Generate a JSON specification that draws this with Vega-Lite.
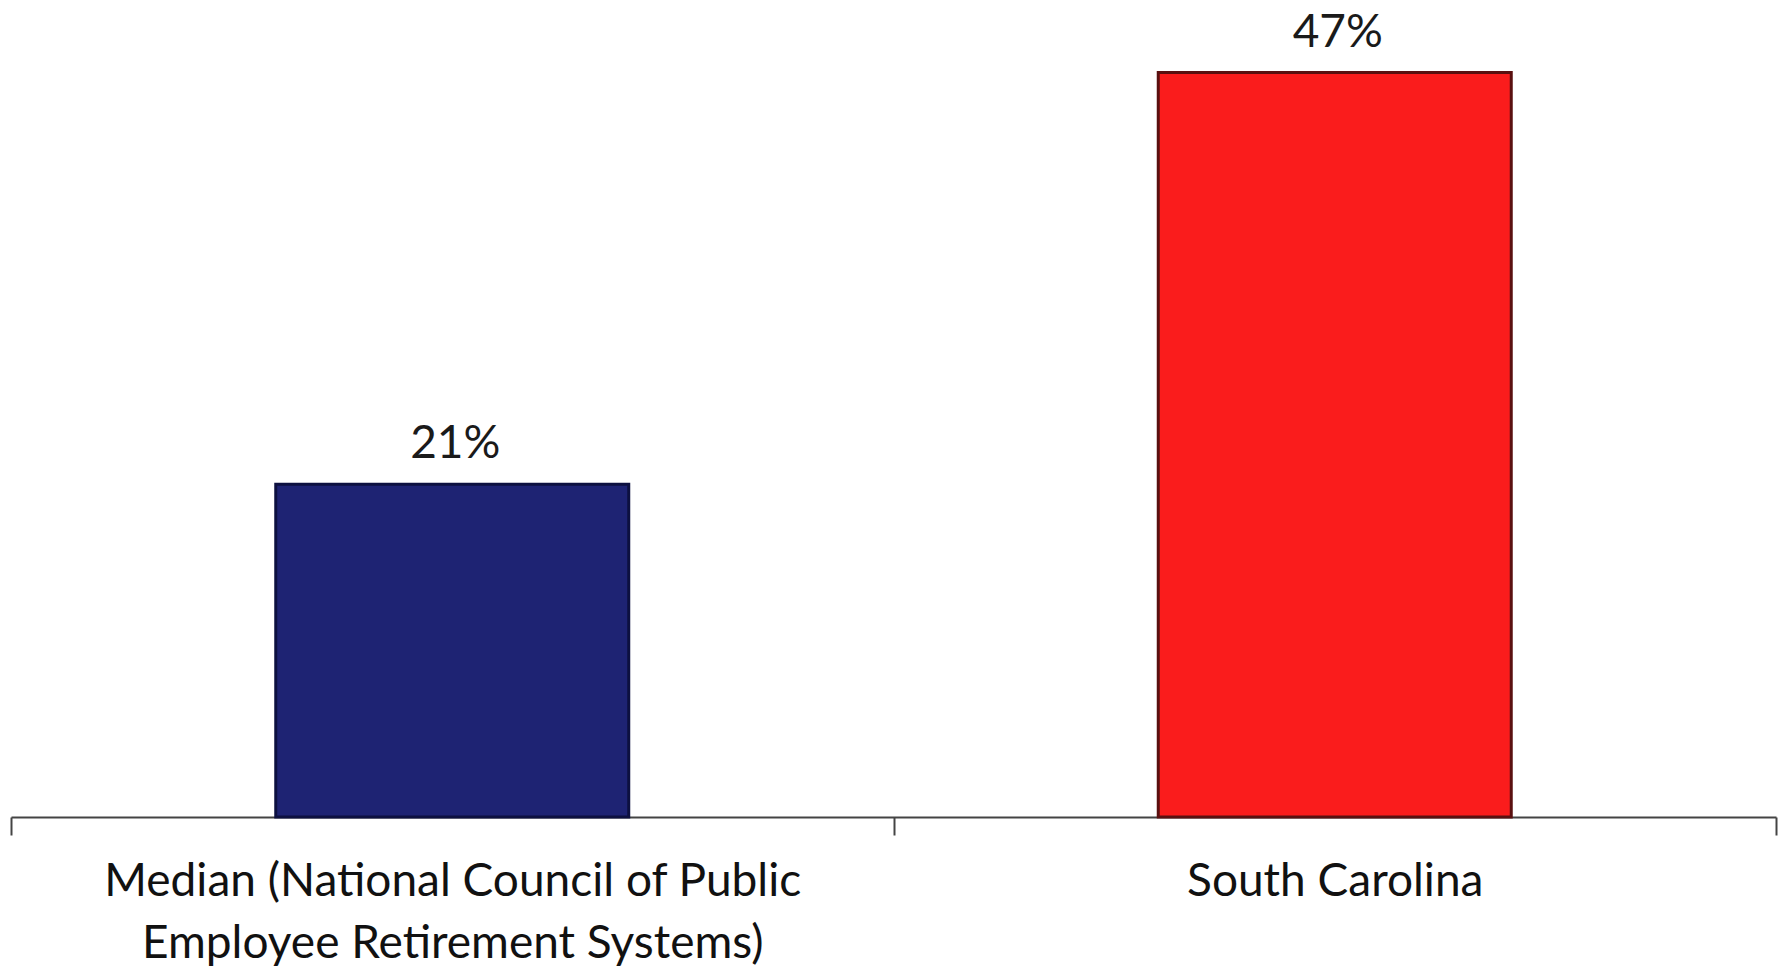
{
  "$schema": "https://vega.github.io/schema/vega-lite/v6.json",
  "width": 1765,
  "height": 792,
  "autosize": {"type": "none"},
  "padding": {"left": 11, "top": 25, "right": 3, "bottom": 155},
  "background": "white",
  "config": {"view": {"stroke": null}, "font": "Lato"},
  "data": {"values": [
    {"category": "Median (National Council of Public Employee Retirement Systems)", "value": 21, "label": "21%"},
    {"category": "South Carolina", "value": 47, "label": "47%"}
  ]},
  "encoding": {
    "x": {
      "field": "category", "type": "nominal", "sort": null,
      "scale": {"paddingInner": 0, "paddingOuter": 0},
      "axis": {
        "title": null, "labelAngle": 0, "tickBand": "extent",
        "domainColor": "#444444", "domainWidth": 2,
        "tickColor": "#444444", "tickWidth": 2, "tickSize": 18,
        "labelFont": "Lato", "labelFontSize": 46, "labelColor": "#111111",
        "labelBaseline": "top", "labelPadding": 24, "labelLineHeight": 62,
        "labelLimit": 1000,
        "labelExpr": "datum.label == 'South Carolina' ? datum.label : (datum.label == 'Median (National Council of Public Employee Retirement Systems)' ? ['Median (National Council of Public', 'Employee Retirement Systems)'] : '')"
      }
    },
    "y": {
      "field": "value", "type": "quantitative",
      "scale": {"domain": [0, 50]},
      "axis": null
    }
  },
  "layer": [
    {
      "mark": {"type": "bar", "width": {"band": 0.4}, "strokeWidth": 3, "strokeJoin": "miter"},
      "encoding": {
        "color": {
          "field": "category", "type": "nominal", "legend": null,
          "scale": {"range": ["#1e2373", "#fa1c1c"]}
        },
        "stroke": {
          "field": "category", "type": "nominal", "legend": null,
          "scale": {"range": ["#0d1040", "#5a1010"]}
        }
      }
    },
    {
      "mark": {"type": "text", "baseline": "alphabetic", "dy": -26, "dx": 3, "fontSize": 46, "font": "Lato", "color": "#1a1a1a"},
      "encoding": {"text": {"field": "label"}}
    }
  ]
}
